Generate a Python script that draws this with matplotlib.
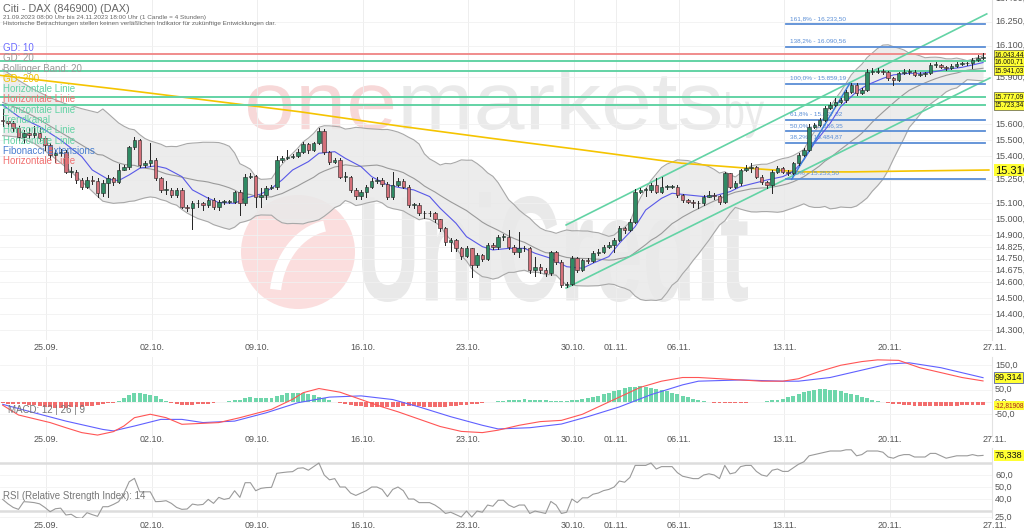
import matplotlib
matplotlib.use('Agg')
import matplotlib.pyplot as plt
from matplotlib.font_manager import FontProperties
from matplotlib.textpath import TextPath
from matplotlib.patches import PathPatch, Circle, Arc
from matplotlib.transforms import Affine2D
import pandas as pd

plt.rcParams['font.family'] = ['Liberation Sans', 'DejaVu Sans']

FIG_W, FIG_H = 1024, 531
PLOT_R = 992

closes = [
    15620, 15608, 15576, 15520, 15545, 15534, 15545, 15512, 15470, 15405,
    15418, 15428, 15302, 15302, 15249, 15207, 15249, 15245, 15165, 15228,
    15260, 15239, 15312, 15333, 15456, 15502, 15344, 15355, 15376, 15260,
    15186, 15186, 15154, 15186, 15080, 15070, 15101, 15101, 15091, 15122,
    15080, 15112, 15112, 15112, 15171, 15101, 15266, 15275, 15144, 15154,
    15196, 15207, 15376, 15386, 15397, 15401, 15428, 15477, 15439, 15481,
    15561, 15428, 15365, 15376, 15270, 15270, 15186, 15148, 15175, 15207,
    15245, 15249, 15224, 15144, 15217, 15245, 15207, 15091, 15091, 15038,
    15038, 15038, 15000, 14943, 14858, 14869, 14816, 14768, 14816, 14711,
    14774, 14750, 14840, 14827, 14890, 14890, 14827, 14795, 14816, 14816,
    14679, 14700, 14679, 14658, 14795, 14732, 14585, 14590, 14753, 14679,
    14743, 14739, 14785, 14795, 14827, 14838, 14869, 14943, 14932, 14985,
    15175, 15186, 15186, 15217, 15175, 15207, 15207, 15207, 15154, 15122,
    15112, 15101, 15101, 15143, 15154, 15148, 15112, 15291, 15207, 15227,
    15312, 15323, 15333, 15270, 15238, 15217, 15302, 15323, 15302, 15296,
    15354, 15407, 15438, 15586, 15598, 15629, 15703, 15724, 15745, 15755,
    15808, 15850, 15798, 15819, 15935, 15935, 15941, 15935, 15892, 15882,
    15924, 15935, 15935, 15913, 15920, 15924, 15977, 15977, 15966, 15956,
    15970, 15983, 15987, 15987, 16008, 16019, 16029,
]
highs = [
    15700, 15640, 15625, 15590, 15565, 15580, 15590, 15575, 15530, 15480,
    15440, 15445, 15440, 15330, 15315, 15260, 15270, 15275, 15260, 15250,
    15280, 15265, 15350, 15345, 15465, 15520, 15510, 15370, 15480, 15390,
    15270, 15240, 15195, 15200, 15195, 15090, 15115, 15120, 15110, 15140,
    15135, 15125, 15125, 15125, 15180, 15185, 15285, 15290, 15280, 15200,
    15210, 15220, 15400, 15400, 15440, 15415, 15445, 15490, 15485, 15490,
    15580, 15570, 15435, 15390, 15385, 15300, 15275, 15195, 15185, 15220,
    15260, 15270, 15260, 15235, 15300, 15260, 15255, 15215, 15105, 15100,
    15050, 15050, 15045, 15005, 14950, 14880, 14875, 14825, 14830, 14820,
    14785, 14780, 14850, 14850, 14900, 14905, 14930, 14835, 14920, 14830,
    14825, 14760, 14720, 14690, 14800, 14800, 14740, 14600, 14770, 14760,
    14750, 14755, 14800, 14810, 14840, 14855, 14880, 14955, 14950, 15000,
    15190, 15195, 15200, 15230, 15260, 15270, 15220, 15220, 15215, 15160,
    15130, 15120, 15115, 15155, 15180, 15165, 15155, 15300, 15295, 15240,
    15320, 15345, 15355, 15340, 15280, 15245, 15315, 15335, 15330, 15310,
    15365, 15420, 15450, 15600, 15610, 15640, 15715, 15740, 15770, 15770,
    15820, 15865, 15860, 15830, 15950, 15955, 15955, 15950, 15940, 15900,
    15935, 15950, 15950, 15945, 15930, 15935, 15990, 15995, 15985, 15970,
    15980, 15995, 15995, 15995, 16020, 16040, 16050,
]
lows = [
    15590, 15590, 15560, 15500, 15480, 15515, 15520, 15495, 15440, 15380,
    15360, 15400, 15290, 15270, 15230, 15190, 15195, 15225, 15140, 15150,
    15140, 15220, 15230, 15310, 15320, 15445, 15330, 15330, 15340, 15250,
    15170, 15160, 15140, 15140, 15070, 15050, 14940, 15080, 15060, 15075,
    15065, 15060, 15095, 15100, 15100, 15030, 15090, 15260, 15080, 15080,
    15130, 15190, 15190, 15360, 15380, 15385, 15395, 15420, 15420, 15430,
    15475, 15415, 15350, 15355, 15260, 15240, 15170, 15130, 15130, 15140,
    15200, 15230, 15210, 15130, 15130, 15210, 15195, 15080, 15070, 15025,
    15010, 15020, 14985, 14925, 14840, 14800, 14800, 14750, 14760, 14637,
    14700, 14735, 14745, 14810, 14815, 14870, 14815, 14780, 14760, 14800,
    14660, 14640, 14660, 14640, 14650, 14720, 14570, 14570, 14585, 14665,
    14670, 14725, 14730, 14775, 14785, 14820, 14790, 14860, 14915, 14925,
    14975, 15165, 15150, 15175, 15165, 15165, 15190, 15195, 15140, 15110,
    15100, 15080, 15070, 15090, 15140, 15130, 15095, 15105, 15195, 15200,
    15220, 15305, 15300, 15260, 15225, 15200, 15165, 15295, 15290, 15280,
    15285, 15345, 15400, 15430, 15575, 15590, 15620, 15695, 15715, 15735,
    15745, 15800, 15785, 15790, 15810, 15920, 15925, 15920, 15880, 15850,
    15875, 15920, 15920, 15905, 15905, 15910, 15920, 15965, 15955, 15945,
    15950, 15965, 15975, 15975, 15960, 16000, 16015,
]
first_open = 15630

# Bollinger-Band am linken Rand (vor dem 20er-Fenster)
bb_head_idx = [0, 3, 6, 9, 12, 15, 18]
bb_head_upper = [15950, 15880, 15820, 15770, 15730, 15700, 15675]
bb_head_mid = [15740, 15700, 15650, 15590, 15530, 15470, 15410]
bb_head_lower = [15530, 15520, 15480, 15410, 15330, 15240, 15145]

sma10_idx = [0, 3, 7, 11, 15, 17, 20, 22, 24, 26, 29, 31, 34, 36, 39, 41, 44, 46, 49, 51,
             53, 55, 58, 60, 63, 65, 68, 70, 73, 76, 78, 81, 83, 86, 88, 91, 93, 96, 99, 101,
             104, 107, 110, 112, 115, 117, 120, 122, 125, 127, 130, 133, 135, 138, 140, 143,
             145, 148, 150, 152, 154, 157, 159, 162, 164, 167, 169, 172, 174, 177, 179, 182,
             184, 186]
sma10_val = [15724, 15650, 15587, 15502, 15397, 15312, 15253, 15245, 15281, 15323, 15338,
             15323, 15270, 15186, 15133, 15106, 15101, 15133, 15160, 15196, 15249, 15312,
             15365, 15418, 15428, 15386, 15333, 15270, 15217, 15196, 15186, 15144, 15070,
             14975, 14890, 14827, 14806, 14816, 14816, 14785, 14753, 14700, 14690, 14722,
             14764, 14848, 14954, 15059, 15133, 15165, 15154, 15144, 15148, 15175, 15207,
             15232, 15249, 15270, 15302, 15376, 15481, 15608, 15713, 15808, 15850, 15892,
             15914, 15924, 15924, 15935, 15949, 15962, 15977, 15992]

sma200_idx = [-1, 23, 37.5, 56.5, 75.5, 92.6, 109.8, 128.8, 141.5, 151.6, 161.1, 173.1, 187.1]
sma200_val = [15913, 15819, 15759, 15680, 15589, 15513, 15440, 15355, 15323, 15300, 15300,
              15306, 15312]

macd_idx = [0, 3, 9, 12, 15, 18, 21, 23, 25, 28, 31, 34, 41, 45, 51, 55, 57, 60, 64, 68,
            72, 75, 79, 83, 87, 91, 94, 98, 102, 106, 110, 113, 117, 121, 125, 129, 132, 136,
            140, 144, 148, 151, 155, 159, 163, 166, 170, 174, 178, 182, 186]
macd_val = [-13, -53, -84, -105, -125, -135, -121, -98, -64, -50, -64, -91, -84, -64, -30, 11,
            38, 55, 40, 10, -20, -40, -70, -100, -120, -125, -115, -95, -80, -75, -50, -20, 20,
            60, 85, 100, 100, 95, 90, 85, 85, 95, 125, 150, 165, 172, 170, 140, 120, 100, 86]
signal_idx = [0, 6, 12, 19, 21, 25, 30, 34, 38, 44, 50, 56, 62, 68, 74, 79, 85, 91, 94, 100,
              106, 111, 117, 123, 129, 132, 140, 148, 151, 157, 163, 168, 172, 178, 186]
signal_val = [-9.5, -44, -78, -112, -118, -98, -71, -71, -84, -78, -44, -3, 20, 25, 10, -20,
              -60, -95, -110, -105, -90, -60, -20, 30, 70, 85, 90, 85, 85, 100, 130, 155, 160,
              140, 99.3]
macd_hist = [
    -6, -7, -8, -9, -10, -11, -14, -17, -20, -22,
    -23, -23, -23, -22, -21, -19, -17, -15, -12, -9,
    -6, -3, 5, 15, 30, 38, 36, 33, 30, 24,
    14, 5, -3, -8, -12, -13, -12, -10, -9, -7,
    -4, -1, 1, 3, 8, 10, 18, 20, 17, 16,
    16, 16, 24, 30, 35, 37, 38, 36, 33, 28,
    22, 15, 8, 2, -4, -9, -13, -16, -18, -20,
    -21, -22, -22, -21, -20, -19, -18, -17, -17, -18,
    -19, -20, -21, -21, -20, -18, -16, -14, -12, -10,
    -8, -5, -2, 1, 4, 6, 8, 9, 10, 11,
    10, 9, 8, 7, 6, 5, 4, 5, 7, 10,
    13, 17, 21, 26, 32, 38, 44, 50, 56, 60,
    63, 64, 62, 58, 53, 48, 43, 38, 32, 26,
    20, 14, 9, 4, 0, -3, -5, -6, -6, -5,
    -4, -3, -2, 0, 2, 4, 7, 10, 14, 20,
    26, 33, 40, 46, 50, 52, 52, 50, 47, 43,
    38, 33, 28, 22, 16, 10, 5, 0, -4, -7,
    -10, -12, -14, -15, -16, -16, -17, -17, -16, -16,
    -15, -15, -14, -14, -13, -13, -13,
]
rsi = [
    39.7, 36, 33, 31.4, 37.8, 37.5, 37, 36, 33, 29.4,
    31.9, 32.4, 26.7, 27.3, 24.5, 23.9, 28.6, 27, 25.6, 33.6,
    33.6, 35.5, 37.8, 44.7, 54.4, 57.2, 46, 46, 46, 37.8,
    38, 38.6, 36.4, 33, 31.4, 31.7, 35.8, 35, 35.5, 39.7,
    36.4, 41.4, 39.7, 40.6, 46.9, 41.4, 53.6, 53.6, 46.9, 48.9,
    49.5, 49.7, 61.4, 62, 62.5, 62.8, 65.6, 66, 64, 67,
    70, 60, 56, 57, 50, 50, 45, 43, 45, 47,
    50, 50, 48, 42, 48, 50, 47, 40, 40, 37,
    37, 37, 35, 32, 28, 29, 27, 25, 30, 25,
    30, 29, 35, 34, 39, 39, 35, 33, 35, 35,
    28, 30, 29, 28, 38, 35, 28, 29, 40, 37,
    41, 41, 44, 45, 47, 48, 50, 55, 54, 58,
    68, 68, 68, 70, 65, 67, 67, 67, 62, 59,
    58, 57, 57, 60, 61, 60, 57, 68, 61, 62,
    67, 68, 68, 63, 60, 59, 64, 65, 63, 63,
    66, 69, 71, 76, 77, 78, 79, 80, 80, 80,
    81, 81, 76, 77, 80, 80, 80, 79, 75, 74,
    76, 77, 77, 75, 75, 75, 78, 78, 76, 74,
    75, 76, 76, 76, 77, 76, 76.338,
]

# Zeichenwerkzeuge aus dem Original
hline_values = [16043.44, 16000.71, 15941.03, 15777.09, 15723.34]
hline_colors = ['#f08c8c', '#63d3a5', '#63d3a5', '#63d3a5', '#63d3a5']
channel_lower = [(106.9, 14565), (187.3, 15894)]
channel_upper = [(106.9, 14964), (186.7, 16300)]
fib_pcts = ['161,8%', '138,2%', '100,0%', '61,8%', '50,0%', '38,2%', '0,0%']
fib_levels = [16233.50, 16090.56, 15859.19, 15627.82, 15556.35, 15484.87, 15253.50]
fib_start, fib_end = 148.6, 186.4
fib_swing = [(149.7, 15253.5), (160.7, 15859.19)]

date_labels = ['25.09.', '02.10.', '09.10.', '16.10.', '23.10.', '30.10.', '01.11.',
               '06.11.', '13.11.', '20.11.', '27.11.']
date_idx = [8.3, 28.3, 48.3, 68.3, 88.3, 108.3, 116.3, 128.3, 148.3, 168.3, 188.3]

price_ticks = [16400, 16250, 16100, 15900, 15600, 15500, 15400, 15250, 15100, 15000, 14900,
               14825, 14750, 14675, 14600, 14500, 14400, 14300]
macd_ticks = [150, 50, 0, -50]
rsi_ticks = [60, 50, 40, 25]

legend_items = [('GD: 10', '#6b6bff'), ('GD: 20', '#9a9a9a'), ('Bollinger Band: 20', '#9a9a9a'),
                ('GD: 200', '#f2c200'), ('Horizontale Linie', '#63d3a5'),
                ('Horizontale Linie', '#f07070'), ('Horizontale Linie', '#63d3a5'),
                ('Trendkanal', '#63d3a5'), ('Horizontale Linie', '#63d3a5'),
                ('Horizontale Linie', '#63d3a5'), ('Fibonacci Extensions', '#4a7fd0'),
                ('Horizontale Linie', '#f07070')]

X_LEFT = -0.51
X_RIGHT = 187.7
GREEN = '#2f8a63'
RED = '#d4707a'
LABEL_GREY = '#555555'


def fmt_de(v, dec=2):
    s = f'{v:,.{dec}f}'
    return s.replace(',', 'X').replace('.', ',').replace('X', '.')


def pix(fig):
    # Pixelkoordinaten von oben links
    return Affine2D().scale(1, -1).translate(0, FIG_H)


def make_panel(fig, top, bottom, ylim):
    ax = fig.add_axes([0, 1 - bottom / FIG_H, PLOT_R / FIG_W, (bottom - top) / FIG_H])
    ax.set_facecolor('none')
    for name, sp in ax.spines.items():
        sp.set_visible(name == 'right')
    ax.spines['right'].set_color('#e2e2e2')
    ax.set_xlim(X_LEFT, X_RIGHT)
    ax.set_ylim(*ylim)
    ax.set_xticks([])
    ax.set_yticks([])
    for d in date_idx:
        ax.axvline(d, color='#eeeeee', lw=0.7, zorder=0)
    return ax


def date_row(ax, y_px_offset):
    for d, lab in zip(date_idx, date_labels):
        ax.annotate(lab, xy=(d, 0), xycoords=('data', 'axes fraction'),
                    xytext=(0, y_px_offset), textcoords='offset pixels',
                    ha='center', va='center', fontsize=6.5, color=LABEL_GREY,
                    annotation_clip=False)


def right_label(ax, y, text, size=6.5, color=LABEL_GREY, box=None):
    ax.annotate(text, xy=(1, y), xycoords=('axes fraction', 'data'),
                xytext=(3, 0), textcoords='offset pixels', ha='left', va='center',
                fontsize=size, color=color, bbox=box, annotation_clip=False, zorder=20)


def path_word(ax, text, x0, x1, y_bottom, height, color, weight='normal', ref=None, align='left'):
    prop = FontProperties(family='Liberation Sans', weight=weight)
    full = TextPath((0, 0), ref or text, size=1, prop=prop)
    part = TextPath((0, 0), text, size=1, prop=prop)
    fb = full.get_extents()
    pb = part.get_extents()
    sx = (x1 - x0) / fb.width
    sy = height / fb.height
    shift = 0 if align == 'left' else fb.x1 - pb.x1
    tr = Affine2D().translate(shift - fb.x0, -fb.y0).scale(sx, -sy).translate(x0, y_bottom)
    ax.add_patch(PathPatch(tr.transform_path(part), color=color, lw=0, zorder=1))


def draw_watermark(fig):
    ax = fig.add_axes([0, 0, 1, 1], zorder=-5)
    ax.set_xlim(0, FIG_W)
    ax.set_ylim(FIG_H, 0)
    ax.axis('off')
    path_word(ax, 'one', 248, 720, 130, 60, '#f7d8d8', ref='onemarkets')
    path_word(ax, 'markets', 248, 720, 130, 60, '#eaeaea', ref='onemarkets', align='right')
    path_word(ax, 'by', 726, 764, 138, 46, '#eaeaea')
    path_word(ax, 'UniCredit', 362, 748, 302, 110, '#e9e9e9', weight='bold')
    ax.add_patch(Circle((298, 252), 57, color='#fbdede', lw=0, zorder=1))
    ax.add_patch(Arc((335, 300), 120, 150, theta1=190, theta2=262, color='white', lw=8,
                     zorder=2))


def draw_main(fig):
    ax = make_panel(fig, 0, 340, (14236, 16388))
    for t in price_ticks:
        ax.axhline(t, color='#f1f1f1', lw=0.6, zorder=0)
        right_label(ax, t, fmt_de(t))

    n = len(closes)
    s = pd.Series(closes)
    mid = s.rolling(20).mean()
    std = s.rolling(20).std(ddof=0)
    upper = mid + 2 * std
    lower = mid - 2 * std
    tail = list(range(19, n))
    bx = bb_head_idx + tail
    bu = bb_head_upper + list(upper[19:])
    bm = bb_head_mid + list(mid[19:])
    bl = bb_head_lower + list(lower[19:])
    ax.fill_between(bx, bl, bu, color='#e9e9e9', alpha=0.85, lw=0, zorder=1)
    ax.plot(bx, bu, color='#a8a8a8', lw=0.8, zorder=2)
    ax.plot(bx, bl, color='#a8a8a8', lw=0.8, zorder=2)
    ax.plot(bx, bm, color='#9a9a9a', lw=0.8, zorder=2)

    ax.plot(sma200_idx, sma200_val, color='#f5c400', lw=1.2, zorder=3)
    ax.plot(sma10_idx, sma10_val, color='#5858e8', lw=0.8, zorder=4)

    for v, c in zip(hline_values, hline_colors):
        ax.plot([X_LEFT, 186.3], [v, v], color=c, lw=1.4, zorder=3)
    for line in (channel_lower, channel_upper):
        ax.plot([p[0] for p in line], [p[1] for p in line], color='#63d3a5', lw=1.2, zorder=3)
    for pct, lev in zip(fib_pcts, fib_levels):
        ax.plot([fib_start, fib_end], [lev, lev], color='#5a8ed6', lw=1.3, zorder=3)
        ax.text(fib_start + 0.8, lev + 22, f'{pct} - {fmt_de(lev)}', fontsize=4.6,
                color='#5a8ed6', ha='left', va='bottom', zorder=3)
    ax.plot([p[0] for p in fib_swing], [p[1] for p in fib_swing], color='#3f7fd8', lw=1.1,
            zorder=4)

    opens = [first_open] + closes[:-1]
    for i, (o, c, h, l) in enumerate(zip(opens, closes, highs, lows)):
        col = GREEN if c >= o else RED
        ax.plot([i, i], [min(l, o, c), max(h, o, c)], color='#222222', lw=0.7, zorder=5)
        ax.bar(i, max(abs(c - o), 3), bottom=min(o, c), width=0.66, color=col,
               edgecolor='#222222', linewidth=0.4, zorder=6)

    # Markierungen rechts
    box = dict(boxstyle='square,pad=0.15', fc='#ffff33', ec='#333333', lw=0.4)
    for v in hline_values:
        right_label(ax, v, fmt_de(v), size=4.8, color='#111111', box=box)
    right_label(ax, 15310.42, '15.310,42', size=8, color='#111111',
                box=dict(boxstyle='square,pad=0.1', fc='#ffff33', ec='none'))

    for k, (txt, col) in enumerate(legend_items):
        ax.text(3, 48 + k * 10.3, txt, transform=pix(fig), fontsize=7, color=col,
                ha='left', va='center', zorder=10)
    ax.text(3, 9, 'Citi - DAX (846900) (DAX)', transform=pix(fig), fontsize=7.8,
            color='#666666', ha='left', va='center')
    ax.text(3, 17, '21.09.2023 08:00 Uhr bis 24.11.2023 18:00 Uhr (1 Candle = 4 Stunden)',
            transform=pix(fig), fontsize=4.6, color='#666666', ha='left', va='center')
    ax.text(3, 24, 'Historische Betrachtungen stellen keinen verläßlichen Indikator für '
            'zukünftige Entwicklungen dar.', transform=pix(fig), fontsize=4.6,
            color='#666666', ha='left', va='center')
    date_row(ax, -7)


def draw_macd(fig):
    ax = make_panel(fig, 357, 436, (-138.8, 183.7))
    for t in macd_ticks:
        ax.axhline(t, color='#f3f3f3', lw=0.6, zorder=0)
        right_label(ax, t, fmt_de(t, 1))
    xs = list(range(len(macd_hist)))
    cols = ['#6fd6ab' if v >= 0 else '#f26d6d' for v in macd_hist]
    ax.bar(xs, macd_hist, width=0.75, color=cols, lw=0, zorder=2)
    ax.plot(signal_idx, signal_val, color='#6060ff', lw=0.8, zorder=3)
    ax.plot(macd_idx, macd_val, color='#ff5555', lw=0.8, zorder=3)
    ax.text(8, 410, 'MACD: 12 | 26 | 9', transform=pix(fig), fontsize=7, color='#777777',
            ha='left', va='center')
    right_label(ax, 99.314, '99,314', size=6.5, color='#111111',
                box=dict(boxstyle='square,pad=0.1', fc='#ffff33', ec='#3344aa', lw=0.5))
    right_label(ax, -14.5, '-12,81908', size=4.8, color='#aa2222',
                box=dict(boxstyle='square,pad=0.1', fc='#ffff33', ec='none'))
    date_row(ax, -4)


def draw_rsi(fig):
    ax = make_panel(fig, 448, 518, (24.2, 82.5))
    for t in rsi_ticks:
        ax.axhline(t, color='#f3f3f3', lw=0.6, zorder=0)
        right_label(ax, t, fmt_de(t, 1))
    ax.axhline(70, color='#dddddd', lw=1.8, zorder=1)
    ax.axhline(30, color='#dddddd', lw=1.8, zorder=1)
    ax.plot(range(len(rsi)), rsi, color='#9a9a9a', lw=0.8, zorder=3)
    ax.text(3, 496, 'RSI (Relative Strength Index): 14', transform=pix(fig), fontsize=7,
            color='#777777', ha='left', va='center')
    right_label(ax, rsi[-1], fmt_de(rsi[-1], 3), size=6.5, color='#111111',
                box=dict(boxstyle='square,pad=0.1', fc='#ffff33', ec='none'))
    date_row(ax, -7)


def main():
    fig = plt.figure(figsize=(FIG_W / 100, FIG_H / 100), dpi=100)
    fig.patch.set_facecolor('white')
    draw_watermark(fig)
    draw_main(fig)
    draw_macd(fig)
    draw_rsi(fig)
    fig.savefig('out.png', dpi=100)
    plt.close(fig)


if __name__ == '__main__':
    main()
